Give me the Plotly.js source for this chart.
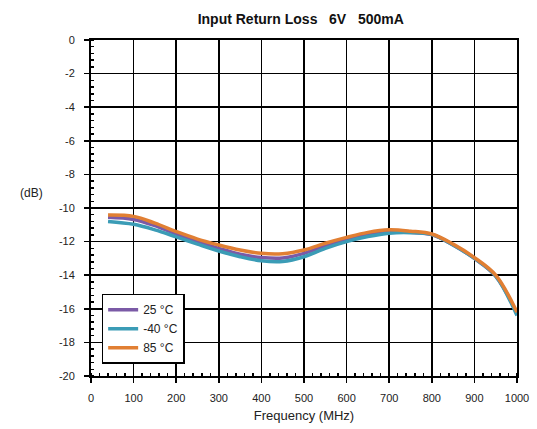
<!DOCTYPE html>
<html><head><meta charset="utf-8">
<script src="https://cdn.plot.ly/plotly-3.0.1.min.js"></script>
<style>body{margin:0;background:#fff}#c{width:537px;height:429px}</style>
</head><body><div id="c"></div>
<script>
const freq = [40,100,150,200,250,300,350,400,450,500,550,600,650,700,750,800,850,900,950,1000];
const s25 = [-10.55,-10.68,-11.05,-11.55,-12.0,-12.4,-12.75,-12.95,-12.98,-12.7,-12.25,-11.88,-11.58,-11.4,-11.45,-11.58,-12.2,-13.0,-14.05,-16.3];
const sM40 = [-10.8,-10.97,-11.3,-11.72,-12.15,-12.56,-12.9,-13.14,-13.18,-12.9,-12.4,-12.0,-11.7,-11.5,-11.47,-11.58,-12.2,-13.0,-14.05,-16.4];
const s85 = [-10.42,-10.5,-10.9,-11.4,-11.85,-12.2,-12.5,-12.7,-12.72,-12.5,-12.1,-11.75,-11.45,-11.3,-11.38,-11.55,-12.15,-12.95,-14.0,-16.2];
const names = ['25 \u00b0C','-40 \u00b0C','85 \u00b0C'];
const colors = ['#7b5aa6','#3b9cb6','#e17f33'];
const xTicks = [0,100,200,300,400,500,600,700,800,900,1000];
const yTicks = [0,-2,-4,-6,-8,-10,-12,-14,-16,-18,-20];

const series = [s25, sM40, s85];
const traces = series.map((s,i)=>({
  x: freq, y: s, name: names[i], type:'scatter', mode:'lines',
  line:{color:colors[i], width:3.5, shape:'spline', smoothing:1}
}));
const font = {family:'Liberation Sans, Arial, sans-serif', size:11, color:'#222'};
const layout = {
  width:537, height:429,
  margin:{l:91, r:20, t:40, b:53},
  paper_bgcolor:'#fff', plot_bgcolor:'#fff',
  font: font,
  title:{text:'<b>Input Return Loss   6V   500mA</b>', x:0.56, xanchor:'center', y:0.955, yanchor:'middle',
         font:{family:'Liberation Sans Narrow, Liberation Sans, Arial, sans-serif', size:14, color:'#111'}},
  showlegend:true,
  legend:{x:0.025, y:0.245, xanchor:'left', yanchor:'top', bgcolor:'#fff', bordercolor:'#000', borderwidth:1.5,
          font:{family:'Liberation Sans, Arial, sans-serif', size:12, color:'#222'}, itemwidth:30, tracegroupgap:2},
  xaxis:{range:[0,1000], tickvals:xTicks, ticktext:xTicks.map(String), showgrid:true, gridcolor:'#000', gridwidth:1.5,
         showline:true, linecolor:'#000', linewidth:2, mirror:true, ticks:'outside', ticklen:5, tickwidth:1.5, tickcolor:'#000',
         zeroline:false, ticklabelstandoff:6, title:{text:'Frequency (MHz)', font:{size:13, color:'#222'}, standoff:8},
         minor:{dtick:20, ticks:'inside', ticklen:3, tickwidth:1.5, tickcolor:'#000', showgrid:false}},
  yaxis:{range:[-20,0], tickvals:yTicks, ticktext:yTicks.map(String), showgrid:true, gridcolor:'#000', gridwidth:1.5,
         showline:true, linecolor:'#000', linewidth:2, mirror:true, ticks:'outside', ticklen:5, tickwidth:1.5, tickcolor:'#000',
         zeroline:false, ticklabelstandoff:7,
         minor:{dtick:0.4, ticks:'inside', ticklen:3, tickwidth:1.5, tickcolor:'#000', showgrid:false}},
  annotations:[{text:'(dB)', xref:'paper', yref:'paper', x:-0.14, y:0.545, xanchor:'center', yanchor:'middle', showarrow:false,
                font:{size:12, color:'#222'}}]
};
Plotly.newPlot('c', traces, layout, {displayModeBar:false, staticPlot:true});
</script></body></html>
